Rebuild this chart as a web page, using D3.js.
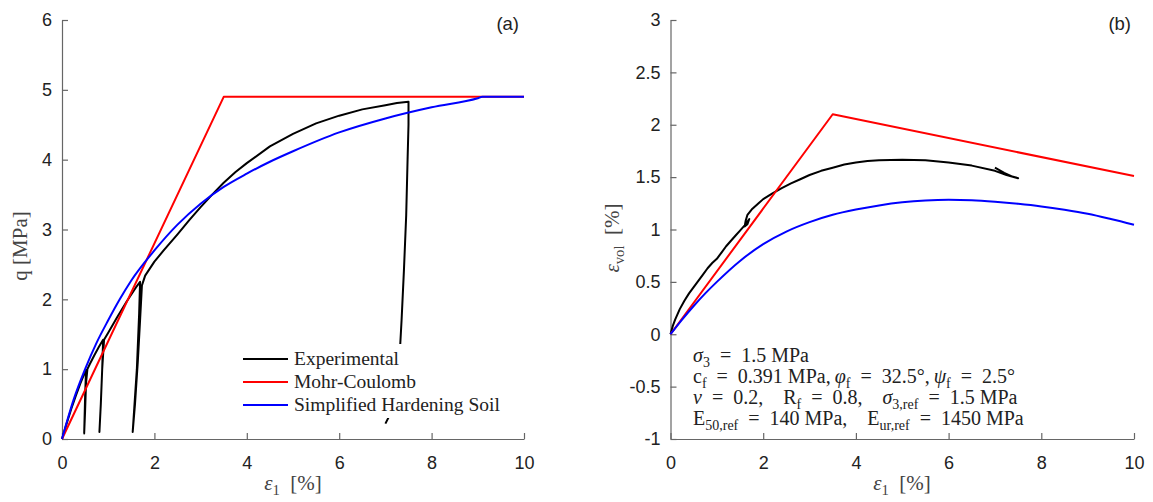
<!DOCTYPE html>
<html>
<head>
<meta charset="utf-8">
<script src="https://cdn.jsdelivr.net/npm/d3@7"></script>
<style>
  body { margin: 0; background: #fff; }
  .tick text { font-family: "Liberation Sans", Arial, sans-serif; font-size: 18px; fill: #222; }
  .serif { font-family: "Liberation Serif", "Times New Roman", serif; }
</style>
</head>
<body>
<svg id="chart" width="1153" height="502"></svg>
<script>
// ---- data ----
var epsTicks = [0, 2, 4, 6, 8, 10];
var qTicks = [0, 1, 2, 3, 4, 5, 6];
var volTicks = [-1, -0.5, 0, 0.5, 1, 1.5, 2, 2.5, 3];
var legendNames = ["Experimental", "Mohr-Coulomb", "Simplified Hardening Soil"];
var colors = ["#000000", "#ff0000", "#0000ff"];

// (a) deviator stress q [MPa] vs eps1 [%]
var mcEpsA = [0, 3.5, 10];
var mcQ = [0, 4.9, 4.9];
var hsEpsA = [0, 0.25, 0.5, 0.75, 1, 1.25, 1.5, 2, 2.5, 3, 3.5, 4, 4.5, 5, 6, 7, 8, 9, 9.1, 10];
var hsQ = [0, 0.56, 1.0, 1.38, 1.7, 2.0, 2.27, 2.7, 3.07, 3.37, 3.61, 3.8, 3.97, 4.12, 4.39, 4.59, 4.75, 4.88, 4.9, 4.9];
var expEpsA = [0, 0.1, 0.2, 0.3, 0.4, 0.5, 0.52, 0.5, 0.48, 0.5, 0.52, 0.55, 0.6, 0.7, 0.8, 0.89,
  0.87, 0.84, 0.81, 0.84, 0.87, 0.91, 1.0, 1.2, 1.4, 1.6, 1.69,
  1.67, 1.62, 1.56, 1.53, 1.58, 1.64, 1.69, 1.73, 1.8, 2.0, 2.2, 2.5, 2.75, 3, 3.25, 3.5, 3.75, 4,
  4.5, 5, 5.5, 6, 6.5, 7, 7.25, 7.5,
  7.5, 7.48, 7.45, 7.4, 7.35, 7.3, 7.2, 7.1, 7.0];
var expQ = [0, 0.22, 0.43, 0.62, 0.8, 0.96, 0.99, 0.6, 0.08, 0.4, 0.8, 1.0, 1.07, 1.2, 1.32, 1.42,
  1.0, 0.5, 0.1, 0.5, 1.0, 1.42, 1.52, 1.75, 1.97, 2.17, 2.25,
  1.8, 1.0, 0.4, 0.1, 0.5, 1.1, 1.7, 2.2, 2.34, 2.54, 2.7, 2.93, 3.13, 3.32, 3.5, 3.67, 3.82, 3.95,
  4.19, 4.37, 4.52, 4.63, 4.72, 4.78, 4.81, 4.83,
  4.5, 4.0, 3.2, 2.4, 1.7, 1.1, 0.6, 0.35, 0.22];

// (b) volumetric strain [%] vs eps1 [%]
var mcEpsB = [0, 3.5, 10];
var mcVol = [0, 2.1, 1.51];
var hsEpsB = [0, 0.25, 0.5, 0.75, 1, 1.5, 2, 2.5, 3, 3.5, 4, 4.5, 5, 5.5, 6, 6.5, 7, 7.5, 8, 8.5, 9, 9.5, 10];
var hsVol = [0, 0.14, 0.27, 0.39, 0.5, 0.7, 0.86, 0.98, 1.07, 1.14, 1.19, 1.23, 1.26, 1.278, 1.285, 1.28, 1.265, 1.245, 1.22, 1.188, 1.15, 1.1, 1.045];
var expEpsB = [0, 0.05, 0.1, 0.2, 0.3, 0.4, 0.5, 0.6, 0.7, 0.8, 0.9, 1.0, 1.1, 1.2, 1.3, 1.4, 1.5, 1.6, 1.7,
  1.66, 1.6, 1.62, 1.66, 1.75, 1.9, 2.0, 2.2, 2.4, 2.6, 2.8, 3, 3.25, 3.5, 3.75, 4, 4.25, 4.5, 5, 5.5, 6, 6.5, 7, 7.25, 7.5,
  7.4, 7.2, 7.0];
var expVol = [0, 0.08, 0.14, 0.24, 0.32, 0.39, 0.45, 0.51, 0.57, 0.63, 0.68, 0.72, 0.78, 0.84, 0.89, 0.94, 0.99, 1.04, 1.1,
  1.05, 1.03, 1.08, 1.14, 1.19, 1.25, 1.29, 1.345, 1.395, 1.44, 1.48, 1.52, 1.56, 1.59, 1.62, 1.64, 1.655, 1.662, 1.665, 1.66, 1.64, 1.61, 1.56, 1.52, 1.49,
  1.5, 1.54, 1.59];

var svg = d3.select("#chart");

function zip(xs, ys) { return xs.map(function(d, i) { return [d, ys[i]]; }); }

// text with subscripts; parts = [text, isSub, isItalic]
function rich(sel, parts, size) {
  var shift = 0;
  parts.forEach(function(p) {
    var s = sel.append("tspan").text(p[0]);
    var want = p[1] ? size * 0.25 : 0;
    if (want !== shift) { s.attr("dy", want - shift); shift = want; }
    if (p[1]) s.style("font-size", (size * 0.7) + "px");
    if (p[2]) s.style("font-style", "italic");
  });
  return sel;
}

function panel(x0, x1, yDomain, yTicks) {
  var x = d3.scaleLinear().domain([0, 10]).range([x0, x1]);
  var y = d3.scaleLinear().domain(yDomain).range([439, 20]);
  var g = svg.append("g");
  g.append("g").attr("transform", "translate(0,439)")
    .call(d3.axisBottom(x).tickValues(epsTicks).tickSizeInner(-6).tickSizeOuter(0).tickPadding(17));
  g.append("g").attr("transform", "translate(" + x0 + ",0)")
    .call(d3.axisLeft(y).tickValues(yTicks).tickSizeInner(-6).tickSizeOuter(0).tickPadding(10)
      .tickFormat(function(d) { return String(d); }));
  g.selectAll(".domain, .tick line").attr("stroke", "#666").attr("stroke-width", 1.2);
  return { g: g, x: x, y: y };
}

function drawLine(p, xs, ys, color, curve) {
  var line = d3.line().x(function(d) { return p.x(d[0]); }).y(function(d) { return p.y(d[1]); })
    .curve(curve || d3.curveLinear);
  p.g.append("path").datum(zip(xs, ys)).attr("d", line)
    .attr("fill", "none").attr("stroke", color).attr("stroke-width", 2)
    .attr("stroke-linejoin", "round");
}

// ---- panel (a) ----
var pa = panel(62, 524, [0, 6], qTicks);
drawLine(pa, expEpsA, expQ, colors[0]);
drawLine(pa, mcEpsA, mcQ, colors[1]);
drawLine(pa, hsEpsA, hsQ, colors[2], d3.curveMonotoneX);

var leg = pa.g.append("g");
leg.append("rect").attr("x", 238).attr("y", 344).attr("width", 268).attr("height", 74).attr("fill", "#fff");
legendNames.forEach(function(name, i) {
  var yy = 359 + i * 23;
  leg.append("line").attr("x1", 243).attr("x2", 288).attr("y1", yy).attr("y2", yy)
    .attr("stroke", colors[i]).attr("stroke-width", 2);
  leg.append("text").attr("class", "serif").attr("x", 294).attr("y", yy + 6)
    .style("font-size", "19.5px").attr("fill", "#222").text(name);
});

pa.g.append("text").attr("x", 519).attr("y", 30).attr("text-anchor", "end")
  .style("font-family", "Liberation Sans, Arial, sans-serif").style("font-size", "18.5px").attr("fill", "#222").text("(a)");

rich(pa.g.append("text").attr("class", "serif").attr("text-anchor", "middle")
  .attr("transform", "translate(27,246) rotate(-90)").attr("fill", "#444").style("font-size", "21px"),
  [["q [MPa]"]], 21);
rich(pa.g.append("text").attr("class", "serif").attr("text-anchor", "middle")
  .attr("x", 293).attr("y", 490).attr("fill", "#444").style("font-size", "21px"),
  [["ε", 0, 1], ["1", 1], ["\u00a0\u00a0[%]"]], 21);

// ---- panel (b) ----
var pb = panel(670.5, 1134, [-1, 3], volTicks);
drawLine(pb, expEpsB, expVol, colors[0]);
drawLine(pb, mcEpsB, mcVol, colors[1]);
drawLine(pb, hsEpsB, hsVol, colors[2], d3.curveMonotoneX);

pb.g.append("text").attr("x", 1131).attr("y", 30).attr("text-anchor", "end")
  .style("font-family", "Liberation Sans, Arial, sans-serif").style("font-size", "18.5px").attr("fill", "#222").text("(b)");

rich(pb.g.append("text").attr("class", "serif").attr("text-anchor", "middle")
  .attr("transform", "translate(619,238) rotate(-90)").attr("fill", "#444").style("font-size", "21px"),
  [["ε", 0, 1], ["vol", 1], ["\u00a0\u00a0[%]"]], 21);
rich(pb.g.append("text").attr("class", "serif").attr("text-anchor", "middle")
  .attr("x", 902).attr("y", 490).attr("fill", "#444").style("font-size", "21px"),
  [["ε", 0, 1], ["1", 1], ["\u00a0\u00a0[%]"]], 21);

var S = "\u2002";
var params = [
  [["σ", 0, 1], ["3", 1], [S + "=" + S + "1.5 MPa"]],
  [["c"], ["f", 1], [S + "=" + S + "0.391 MPa,\u2009"], ["φ", 0, 1], ["f", 1], [S + "=" + S + "32.5°,\u2009"], ["ψ", 0, 1], ["f", 1], [S + "=" + S + "2.5°"]],
  [["ν", 0, 1], [S + "=" + S + "0.2,\u2003R"], ["f", 1], [S + "=" + S + "0.8,\u2003"], ["σ", 0, 1], ["3,ref", 1], [S + "=" + S + "1.5 MPa"]],
  [["E"], ["50,ref", 1], [S + "=" + S + "140 MPa,\u2003E"], ["ur,ref", 1], [S + "=" + S + "1450 MPa"]]
];
params.forEach(function(line, i) {
  rich(pb.g.append("text").attr("class", "serif").attr("x", 693).attr("y", 362 + i * 21)
    .attr("fill", "#222").style("font-size", "20px"), line, 20);
});
</script>
</body>
</html>
